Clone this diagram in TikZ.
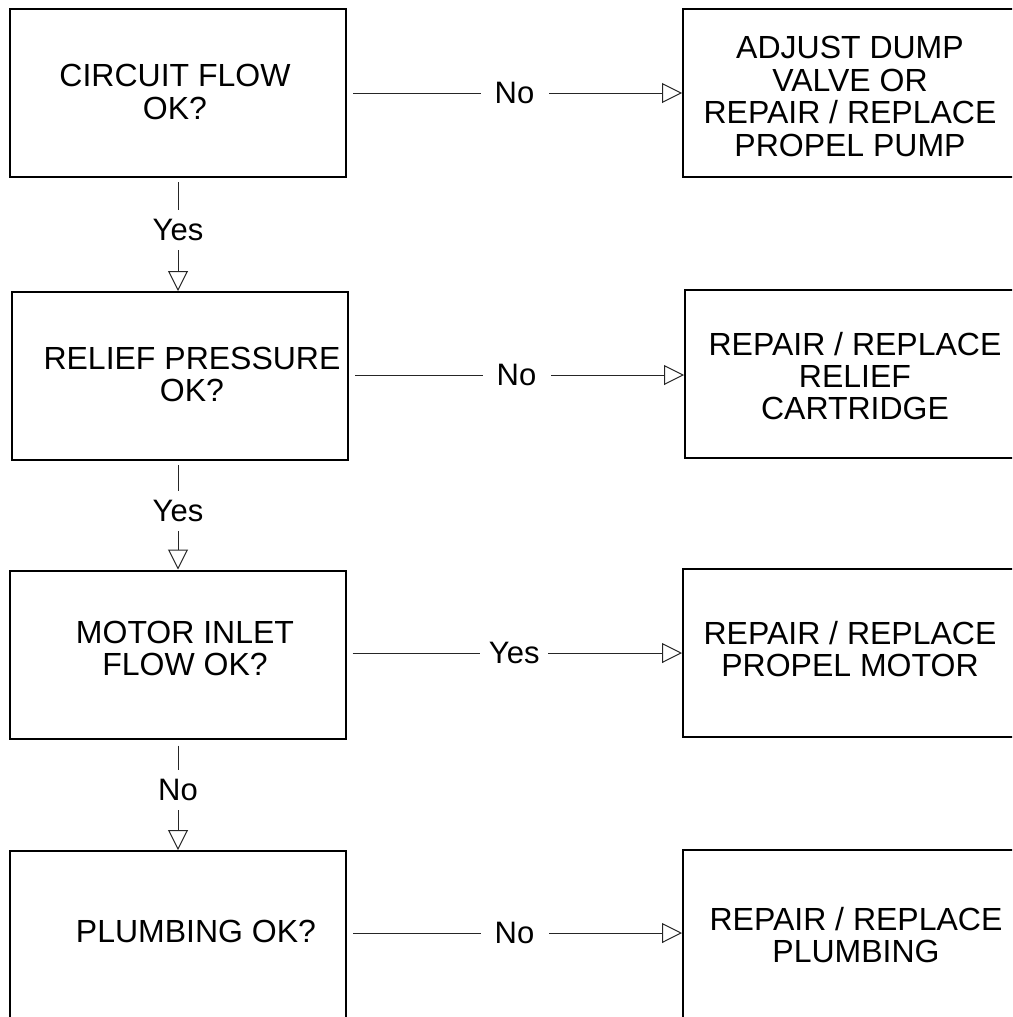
\documentclass[tikz,border=0pt]{standalone}
\usepackage{fontspec}
\setmainfont{Liberation Sans}
\usetikzlibrary{arrows.meta}
\tikzset{
  chkbox/.style  = {draw,line width=1pt,minimum width=168pt,minimum height=84pt,inner sep=0pt},
  boxtxt/.style  = {align=center,inner sep=0pt,font=\fontsize{16}{16.2}\selectfont},
  flowarr/.style = {-{Triangle[open,length=10pt,width=10pt]},line width=0.5pt,black!85},
  flowlbl/.style = {fill=white,text=black,inner sep=0pt,minimum width=34pt,minimum height=20pt,
                    font=\fontsize{15.5}{15.5}\selectfont}
}

\begin{document}
\begin{tikzpicture}[x=0.5pt,y=-0.5pt]
  \useasboundingbox (0,0) rectangle (1012,1017);
  \clip (0,0) rectangle (1012,1017);
  % checks
  \node[chkbox] (q1) at (178,93) {};
  \node[chkbox] (q2) at (180,376) {};
  \node[chkbox] (q3) at (177.5,654.5) {};
  \node[chkbox] (q4) at (178,935) {};
  \node[boxtxt] (q1txt) at (175,92) {CIRCUIT FLOW\\OK?};
  \node[boxtxt] (q2txt) at (192,374.5) {RELIEF PRESSURE\\OK?};
  \node[boxtxt] (q3txt) at (185,648.5) {MOTOR INLET\\FLOW OK?};
  \node[boxtxt] (q4txt) at (196,931) {PLUMBING OK?};
  % remedies
  \node[chkbox] (r1) at (851,93) {};
  \node[chkbox] (r2) at (853,374) {};
  \node[chkbox] (r3) at (851,653) {};
  \node[chkbox] (r4) at (851,934) {};
  \node[boxtxt] (r1txt) at (850,96.5) {ADJUST DUMP\\VALVE OR\\REPAIR / REPLACE\\PROPEL PUMP};
  \node[boxtxt] (r2txt) at (855,376) {REPAIR / REPLACE\\RELIEF\\CARTRIDGE};
  \node[boxtxt] (r3txt) at (850,649) {REPAIR / REPLACE\\PROPEL MOTOR};
  \node[boxtxt] (r4txt) at (856,935) {REPAIR / REPLACE\\PLUMBING};
  % down the checks
  \draw[flowarr,shorten <=2pt] (q1.south) -- node[flowlbl,pos=0.46] {Yes} (q1.south |- q2.north);
  \draw[flowarr,shorten <=2pt] (q2.south -| q1.south) -- node[flowlbl,pos=0.46] {Yes} (q1.south |- q3.north);
  \draw[flowarr,shorten <=3pt] (q3.south -| q1.south) -- node[flowlbl,pos=0.46] {No} (q1.south |- q4.north);
  % across to the remedies
  \draw[flowarr,shorten <=3pt] (q1.east) -- node[flowlbl] {No} (q1.east -| r1.west);
  \draw[flowarr,shorten <=3pt] (q2.east |- 0,375) -- node[flowlbl] {No} (r2.west |- 0,375);
  \draw[flowarr,shorten <=3pt] (q3.east |- r3.west) -- node[flowlbl] {Yes} (r3.west);
  \draw[flowarr,shorten <=3pt] (q4.east |- 0,933) -- node[flowlbl] {No} (r4.west |- 0,933);
\end{tikzpicture}
\end{document}
